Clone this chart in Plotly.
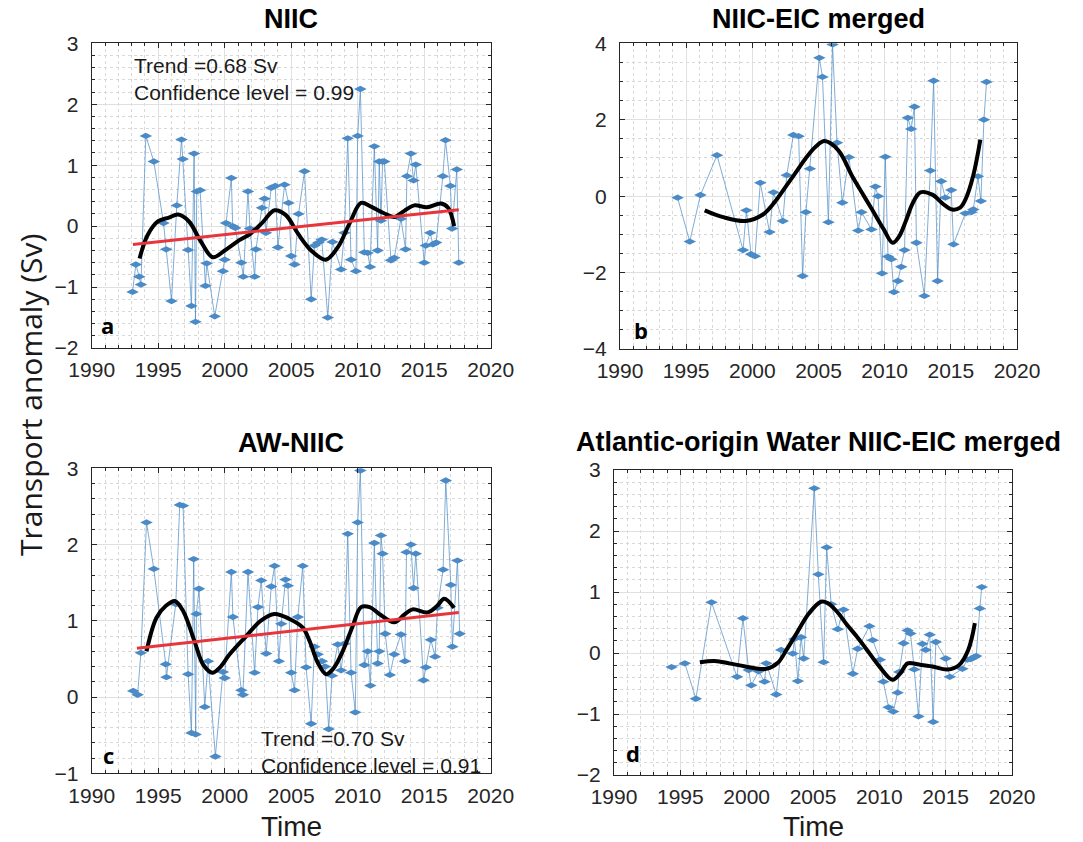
import plotly.graph_objects as go

# ---------------- data ----------------
# Panel a: NIIC
a_time = [1993.07, 1993.32, 1993.57, 1993.70, 1994.07, 1994.67, 1995.40, 1995.60, 1996.00, 1996.40,
          1996.75, 1996.85, 1997.25, 1997.50, 1997.70, 1997.80, 1997.90, 1998.15, 1998.55, 1998.65,
          1999.25, 1999.87, 2000.00, 2000.10, 2000.50, 2000.60, 2000.80, 2001.25, 2001.40, 2001.75,
          2001.90, 2002.25, 2002.35, 2002.80, 2003.00, 2003.10, 2003.50, 2003.80, 2004.00, 2004.50,
          2004.80, 2005.00, 2005.25, 2005.55, 2006.00, 2006.50, 2006.75, 2007.05, 2007.30, 2007.75,
          2008.10, 2008.75, 2009.00, 2009.25, 2009.50, 2009.87, 2010.00, 2010.20,
          2010.50, 2010.75, 2010.93, 2011.25, 2011.50, 2011.62, 2011.75, 2011.87, 2012.00, 2012.50,
          2012.75, 2013.25, 2013.60, 2013.70, 2014.00, 2014.20, 2014.37, 2015.00, 2015.12, 2015.45,
          2015.65, 2015.90, 2016.40, 2016.60, 2016.97, 2017.10, 2017.45, 2017.60]
a_vals = [-1.08, -0.63, -0.83, -0.96, 1.48, 1.06, 0.05, -0.38, -1.23, 0.34,
          1.42, 1.10, -0.39, -1.31, 1.19, -1.57, 0.57, 0.59, -0.98, -0.61,
          -1.48, -0.74, -0.55, 0.05, 0.79, 0.00, -0.03, -0.60, -0.83, 0.57,
          -0.04, -0.83, -0.38, 0.30, 0.45, -0.11, 0.63, 0.66, -0.35, 0.68,
          0.38, -0.49, -0.63, 0.20, 0.90, -1.20, -0.32, -0.27, -0.22, -1.50,
          -0.26, -0.71, -0.11, 1.44, -0.55, -0.74, 1.48, 2.25,
          -0.43, -0.44, -0.67, 1.31, -0.40, 1.06, 0.09, 1.06, 1.06, -0.56,
          -0.52, 0.12, -0.38, 0.82, 1.19, 0.75, 1.01, -0.60, -0.32, -0.11,
          -0.30, -0.27, 0.82, 1.41, 0.66, -0.04, 0.93, -0.60]
a_smooth_time = [1993.6, 1994.2, 1995.0, 1995.8, 1996.5, 1997.3, 1998.2, 1999.1, 2000.0, 2001.1,
                 2001.9, 2002.8, 2003.75, 2004.6, 2005.5, 2006.5, 2007.6, 2008.5, 2009.4, 2010.25,
                 2011.0, 2011.9, 2012.75, 2013.5, 2014.25, 2015.2, 2016.25, 2016.8, 2017.25]
a_smooth_vals = [-0.53, -0.15, 0.08, 0.14, 0.19, 0.08, -0.25, -0.51, -0.40, -0.23,
                 -0.13, 0.05, 0.26, 0.18, -0.12, -0.40, -0.55, -0.35, 0.05, 0.38,
                 0.32, 0.22, 0.15, 0.25, 0.34, 0.31, 0.37, 0.30, 0.0]
a_trend_time = [1993.1, 2017.6]
a_trend_vals = [-0.30, 0.27]

# Panel b: NIIC-EIC merged
b_time = [1994.35, 1995.27, 1996.08, 1997.33, 1999.30, 1999.55, 1999.90, 2000.20, 2000.60, 2001.30,
          2001.60, 2002.30, 2002.60, 2003.10, 2003.50, 2003.80, 2004.05, 2004.35, 2005.06, 2005.30,
          2005.75, 2006.06, 2006.40, 2006.80, 2007.30, 2008.00, 2008.25, 2009.00, 2009.30, 2009.50,
          2009.80, 2010.05, 2010.25, 2010.50, 2010.70, 2011.00, 2011.25, 2011.50, 2011.75, 2012.00,
          2012.25, 2012.40, 2013.00, 2013.45, 2013.70, 2014.00, 2014.27, 2014.58, 2015.03, 2015.20,
          2016.10, 2016.55, 2016.70, 2017.05, 2017.27, 2017.50, 2017.70]
b_vals = [-0.04, -1.19, 0.03, 1.07, -1.41, -0.37, -1.52, -1.57, 0.35, -0.94,
          0.10, -0.65, 0.55, 1.60, 1.57, -2.09, -0.42, 0.72, 3.62, 3.12,
          -0.68, 3.97, 1.40, -0.17, 1.02, -0.90, -0.42, -0.87, 0.25, 0.00,
          -2.02, 1.03, -1.58, -1.65, -2.51, -2.22, -1.85, -1.41, 2.05, 1.76,
          2.34, -1.22, -2.61, 0.67, 3.02, -2.22, 0.39, -0.04, 0.16, -1.26,
          -0.45, -0.42, -0.35, 0.52, -0.13, 2.00, 2.99]
b_smooth_time = [1996.4, 1997.8, 1999.5, 2000.8, 2001.7, 2002.55, 2003.3, 2004.05, 2004.8, 2005.45,
                 2006.5, 2007.55, 2008.3, 2009.05, 2009.9, 2010.6, 2011.1, 2011.6, 2012.1, 2012.7,
                 2013.6, 2014.4, 2015.1, 2015.7, 2016.1, 2016.7, 2017.23]
b_smooth_vals = [-0.37, -0.55, -0.65, -0.48, -0.15, 0.26, 0.63, 1.00, 1.30, 1.44,
                 1.20, 0.52, 0.08, -0.35, -0.85, -1.22, -1.05, -0.65, -0.20, 0.10,
                 0.04, -0.20, -0.35, -0.30, -0.09, 0.55, 1.48]

# Panel c: AW-NIIC
c_time = [1993.12, 1993.45, 1993.70, 1994.12, 1994.67, 1995.57, 1995.62, 1996.32, 1996.62, 1996.87,
          1997.25, 1997.50, 1997.67, 1997.82, 1997.87, 1998.07, 1998.50, 1998.75, 1999.30, 1999.87,
          2000.00, 2000.50, 2000.62, 2001.25, 2001.37, 2001.75, 2002.25, 2002.50, 2002.75, 2003.12,
          2003.50, 2003.75, 2004.07, 2004.25, 2004.57, 2004.75, 2005.00, 2005.25, 2005.50, 2005.87,
          2006.12, 2006.50, 2006.75, 2007.00, 2007.32, 2007.55, 2007.82, 2008.07, 2008.50, 2008.75,
          2009.00, 2009.25, 2009.50, 2009.82, 2010.00, 2010.20, 2010.50, 2010.75, 2010.95, 2011.25,
          2011.50, 2011.62, 2011.75, 2011.87, 2012.07, 2012.42, 2012.75, 2013.25, 2013.55, 2013.67,
          2014.00, 2014.20, 2014.37, 2014.95, 2015.12, 2015.50, 2015.82, 2016.00, 2016.42, 2016.62,
          2017.00, 2017.12, 2017.50, 2017.67]
c_vals = [0.08, 0.03, 0.58, 2.29, 1.68, 0.43, 0.26, 1.22, 2.52, 2.51,
          0.30, -0.47, 1.81, -0.49, 1.09, 1.42, -0.13, 0.47, -0.78, 0.33,
          0.25, 1.64, 1.05, 0.09, 0.03, 1.64, 0.32, 1.18, 1.53, 0.57,
          1.45, 1.72, 0.47, 0.96, 1.54, 1.46, 0.32, 0.09, 1.05, 1.72,
          0.39, -0.35, 0.66, 0.56, 0.47, 0.40, -0.42, 0.28, 0.69, 0.35,
          0.70, 2.14, 0.32, -0.20, 2.29, 2.97, 0.42, 0.60, 0.15, 2.02,
          0.44, 0.60, 2.12, 1.88, 0.83, 0.29, 0.56, 0.82, 0.47, 1.90,
          2.00, 1.43, 1.88, 0.22, 0.39, 0.75, 0.53, 1.17, 1.67, 2.84,
          1.47, 0.66, 1.79, 0.83]
c_smooth_time = [1994.12, 1994.87, 1995.6, 1996.25, 1996.9, 1997.75, 1998.4, 1999.07, 1999.7, 2000.37,
                 2001.62, 2002.7, 2003.75, 2004.8, 2005.87, 2006.37, 2007.0, 2007.62, 2008.2, 2008.87,
                 2009.6, 2010.25, 2010.9, 2011.62, 2012.75, 2013.5, 2014.12, 2015.25, 2016.0, 2016.5, 2017.25]
c_smooth_vals = [0.60, 1.04, 1.20, 1.26, 1.12, 0.72, 0.42, 0.32, 0.40, 0.56,
                 0.80, 1.00, 1.09, 1.03, 0.91, 0.74, 0.45, 0.30, 0.38, 0.60,
                 0.92, 1.18, 1.18, 1.09, 0.98, 1.08, 1.15, 1.11, 1.20, 1.29, 1.17]
c_trend_time = [1993.4, 2017.6]
c_trend_vals = [0.64, 1.11]

# Panel d: Atlantic-origin Water NIIC-EIC merged
d_time = [1994.34, 1995.34, 1996.17, 1997.35, 1999.27, 1999.72, 2000.15, 2000.35, 2000.90, 2001.35,
          2001.48, 2002.23, 2002.60, 2003.48, 2003.60, 2003.86, 2004.10, 2004.30, 2005.10, 2005.40,
          2005.80, 2006.03, 2006.37, 2006.87, 2007.30, 2008.00, 2008.37, 2009.25, 2009.50, 2010.05,
          2010.30, 2010.70, 2011.05, 2011.38, 2011.50, 2011.83, 2012.13, 2012.35, 2012.63, 2012.95,
          2013.25, 2013.50, 2013.80, 2014.06, 2014.26, 2015.00, 2015.32, 2016.26, 2016.64, 2016.90,
          2017.14, 2017.30, 2017.57, 2017.72]
d_vals = [-0.23, -0.17, -0.75, 0.83, -0.39, 0.57, -0.28, -0.53, -0.30, -0.47,
          -0.17, -0.68, 0.05, -0.01, 0.23, -0.46, 0.26, -0.09, 2.70, 1.29,
          -0.15, 1.73, 0.80, 0.39, 0.71, -0.34, 0.07, 0.44, 0.21, -0.11,
          -0.47, -0.89, -0.96, -0.65, -0.31, 0.16, 0.37, 0.32, -0.27, -1.04,
          0.15, 0.05, 0.30, -1.13, 0.18, -0.09, -0.39, -0.26, -0.11, -0.10,
          -0.07, -0.05, 0.73, 1.08]
d_smooth_time = [1996.47, 1997.6, 1998.7, 1999.9, 2001.48, 2002.35, 2003.0, 2003.73, 2004.7, 2005.6,
                 2006.1, 2006.8, 2007.5, 2008.3, 2009.0, 2010.0, 2011.0, 2011.6, 2012.13, 2013.0,
                 2014.0, 2015.13, 2016.0, 2016.7, 2017.2]
d_smooth_vals = [-0.15, -0.13, -0.17, -0.22, -0.26, -0.16, 0.05, 0.31, 0.65, 0.84,
                 0.82, 0.68, 0.48, 0.27, 0.07, -0.22, -0.44, -0.33, -0.17, -0.19,
                 -0.22, -0.27, -0.20, 0.05, 0.49]

titles = ["NIIC", "NIIC-EIC merged", "AW-NIIC", "Atlantic-origin Water NIIC-EIC merged"]
panel_letters = ["a", "b", "c", "d"]
x_ticks = [1990, 1995, 2000, 2005, 2010, 2015, 2020]

# ---------------- figure ----------------
W, H = 1083, 842
BLUE = "#4a8ac6"
RED = "#e8353c"

fig = go.Figure()

series = [
    (a_time, a_vals, a_smooth_time, a_smooth_vals, a_trend_time, a_trend_vals),
    (b_time, b_vals, b_smooth_time, b_smooth_vals, None, None),
    (c_time, c_vals, c_smooth_time, c_smooth_vals, c_trend_time, c_trend_vals),
    (d_time, d_vals, d_smooth_time, d_smooth_vals, None, None),
]

for i, (t, v, st, sv, tt, tv) in enumerate(series):
    xa = "x" if i == 0 else f"x{i+1}"
    ya = "y" if i == 0 else f"y{i+1}"
    fig.add_trace(go.Scatter(
        x=t, y=v, mode="lines+markers", xaxis=xa, yaxis=ya,
        line=dict(color="rgba(74,138,198,0.7)", width=1),
        marker=dict(symbol="diamond-wide", size=9, color=BLUE, line=dict(width=0)),
        showlegend=False, hoverinfo="skip"))
    fig.add_trace(go.Scatter(
        x=st, y=sv, mode="lines", xaxis=xa, yaxis=ya,
        line=dict(color="black", width=4, shape="spline", smoothing=1.0),
        showlegend=False, hoverinfo="skip"))
    if tt is not None:
        fig.add_trace(go.Scatter(
            x=tt, y=tv, mode="lines", xaxis=xa, yaxis=ya,
            line=dict(color=RED, width=3),
            showlegend=False, hoverinfo="skip"))

# pixel boxes (left, top, right, bottom)
boxes = [
    (91.7, 43.3, 490.7, 348.0),
    (620.0, 43.3, 1017.0, 349.0),
    (91.7, 468.3, 490.7, 773.3),
    (614.0, 470.0, 1012.0, 775.0),
]
yranges = [(-2, 3), (-4, 4), (-1, 3), (-2, 3)]
ydticks = [1, 2, 1, 1]
yminor = [0.2, 0.5, 0.2, 0.2]

AXCOL = "#262626"
TICKFONT = dict(family="Liberation Sans, Arial, sans-serif", size=21, color=AXCOL)

for i, (l, t, r, b) in enumerate(boxes):
    xk = "xaxis" if i == 0 else f"xaxis{i+1}"
    yk = "yaxis" if i == 0 else f"yaxis{i+1}"
    ya = "y" if i == 0 else f"y{i+1}"
    xa = "x" if i == 0 else f"x{i+1}"
    fig.update_layout(**{
        xk: dict(domain=[l / W, r / W], range=[1990, 2020], anchor=ya, automargin=False,
                 tickmode="array", tickvals=x_ticks, ticktext=[str(v) for v in x_ticks],
                 showgrid=True, gridcolor="#e0e0e0", gridwidth=1,
                 showline=True, linecolor=AXCOL, linewidth=1, mirror="allticks",
                 ticks="inside", ticklen=5, tickcolor=AXCOL, tickfont=TICKFONT,
                 minor=dict(dtick=1, tick0=1990, showgrid=True, gridcolor="#d8d8d8",
                            griddash="dot", gridwidth=1, ticks="inside", ticklen=3, tickcolor=AXCOL),
                 zeroline=False, fixedrange=True, ticklabelstandoff=3),
        yk: dict(domain=[1 - b / H, 1 - t / H], range=list(yranges[i]), anchor=xa, automargin=False,
                 dtick=ydticks[i], tick0=0,
                 showgrid=True, gridcolor="#e0e0e0", gridwidth=1,
                 showline=True, linecolor=AXCOL, linewidth=1, mirror="allticks",
                 ticks="inside", ticklen=5, tickcolor=AXCOL, tickfont=TICKFONT,
                 minor=dict(dtick=yminor[i], showgrid=True, gridcolor="#d8d8d8",
                            griddash="dot", gridwidth=1, ticks="inside", ticklen=3, tickcolor=AXCOL),
                 zeroline=False, fixedrange=True, ticklabelstandoff=8),
    })

annotations = []
title_pos = [(291.2, 19), (818.5, 19), (291.2, 443), (818, 442)]
for i, (px, py) in enumerate(title_pos):
    annotations.append(dict(
        x=px / W, y=1 - py / H, xref="paper", yref="paper",
        text=f"<b>{titles[i]}</b>", showarrow=False, xanchor="center", yanchor="middle",
        font=dict(family="Liberation Sans, Arial, sans-serif", size=27, color="black")))

letter_pos = [(107, 325), (641, 330), (108, 755), (633, 753)]
for i, (px, py) in enumerate(letter_pos):
    annotations.append(dict(
        x=px / W, y=1 - py / H, xref="paper", yref="paper",
        text=f"<b>{panel_letters[i]}</b>", showarrow=False, xanchor="center", yanchor="middle",
        font=dict(family="Open Sans, DejaVu Sans, sans-serif", size=22, color="black")))

TXT = dict(family="Liberation Sans, Arial, sans-serif", size=21, color="#1a1a1a")
TIMEFONT = dict(family="Liberation Sans, Arial, sans-serif", size=28, color="#1a1a1a")
annotations += [
    dict(x=132 / W, y=1 - 65 / H, xref="paper", yref="paper", text="Trend =0.68 Sv",
         showarrow=False, xanchor="left", yanchor="middle", font=TXT),
    dict(x=132 / W, y=1 - 92 / H, xref="paper", yref="paper", text="Confidence level = 0.99",
         showarrow=False, xanchor="left", yanchor="middle", font=TXT),
    dict(x=259 / W, y=1 - 738 / H, xref="paper", yref="paper", text="Trend =0.70 Sv",
         showarrow=False, xanchor="left", yanchor="middle", font=TXT),
    dict(x=259 / W, y=1 - 765 / H, xref="paper", yref="paper", text="Confidence level = 0.91",
         showarrow=False, xanchor="left", yanchor="middle", font=TXT),
    dict(x=30 / W, y=1 - 395 / H, xref="paper", yref="paper", text="Transport anomaly (Sv)",
         showarrow=False, textangle=-90, xanchor="center", yanchor="middle",
         font=dict(family="Open Sans, DejaVu Sans, sans-serif", size=30, color="#1a1a1a")),
    dict(x=(91.7 + 490.7) / 2 / W, y=1 - 826 / H, xref="paper", yref="paper", text="Time",
         showarrow=False, xanchor="center", yanchor="middle", font=TIMEFONT),
    dict(x=(614 + 1012) / 2 / W, y=1 - 826 / H, xref="paper", yref="paper", text="Time",
         showarrow=False, xanchor="center", yanchor="middle", font=TIMEFONT),
]

fig.update_layout(
    width=W, height=H, margin=dict(l=0, r=0, t=0, b=0, autoexpand=False),
    paper_bgcolor="white", plot_bgcolor="white", template="none",
    annotations=annotations, showlegend=False,
)

fig.write_html("out.html", config={"displayModeBar": False})
